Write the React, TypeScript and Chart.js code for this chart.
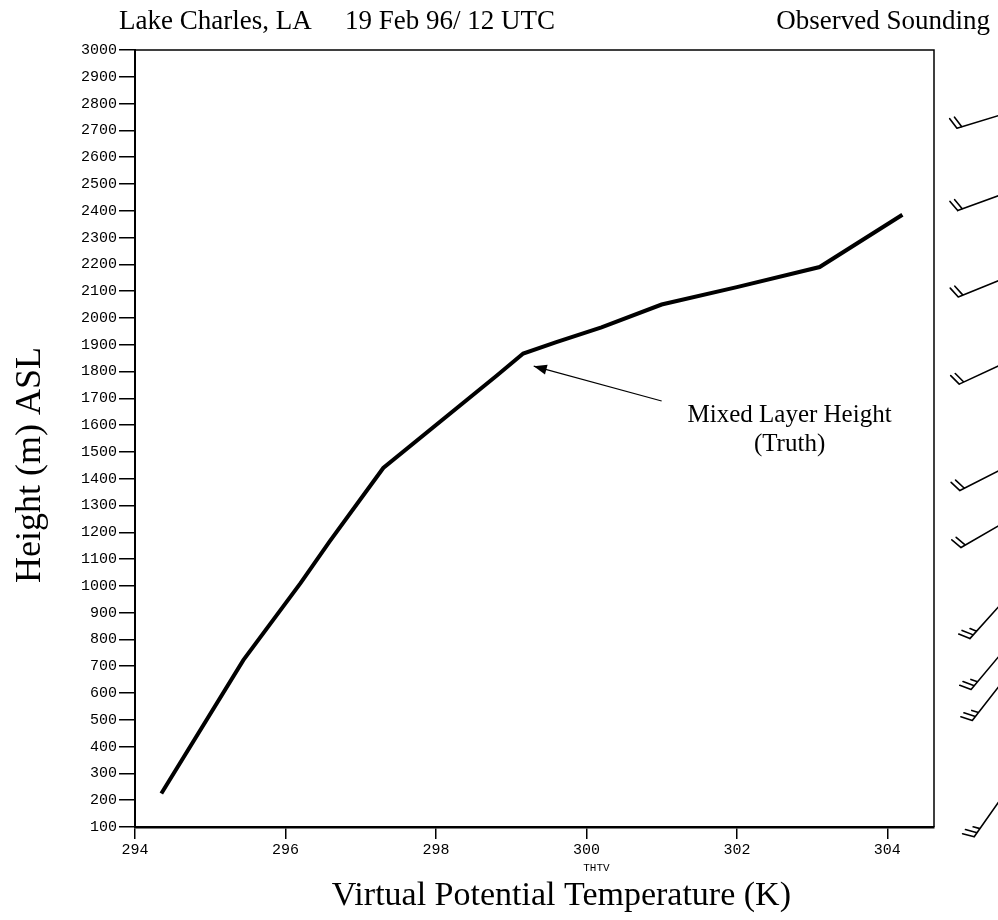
import React, { useEffect, useRef } from "react";
import { Chart, registerables } from "chart.js";

Chart.register(...registerables);

// Sounding profile: virtual potential temperature (K) vs height (m ASL)
const thetaV: number[] = [294.35, 295.44, 296.2, 296.59, 297.3, 298.81, 299.16, 299.6, 300.2, 301.0, 302.0, 303.1, 304.2];
const heights: number[] = [225, 723, 1010, 1167, 1440, 1785, 1867, 1910, 1965, 2050, 2115, 2190, 2385];

const xTicks: number[] = [294, 296, 298, 300, 302, 304];
const yTicks: number[] = [
  100, 200, 300, 400, 500, 600, 700, 800, 900, 1000, 1100, 1200, 1300, 1400, 1500,
  1600, 1700, 1800, 1900, 2000, 2100, 2200, 2300, 2400, 2500, 2600, 2700, 2800, 2900, 3000,
];

// Wind barbs: height (m), direction (deg, from), speed (kt)
const barbHeights: number[] = [2757, 2458, 2141, 1824, 1432, 1227, 928, 742, 630, 201];
const barbDirs: number[] = [253, 250, 248, 245, 243, 240, 222, 220, 218, 215];
const barbSpeeds: number[] = [20, 20, 20, 20, 20, 20, 25, 25, 25, 25];

// Annotation (data coordinates)
const arrowHead: number[] = [299.3, 1820];
const arrowTail: number[] = [301.0, 1690];
const noteAt: number[] = [302.7, 1635];

const titleLeft = "Lake Charles, LA";
const titleMid = "19 Feb 96/ 12 UTC";
const titleRight = "Observed Sounding";
const yTitle = "Height (m) ASL";
const xTitle = "Virtual Potential Temperature (K)";
const xVarName = "THTV";
const noteLines: string[] = ["Mixed Layer Height", "(Truth)"];

const SERIF = '"Liberation Serif", "DejaVu Serif", serif';
const MONO = '"Liberation Mono", "DejaVu Sans Mono", monospace';

const decorPlugin = {
  id: "decor",
  afterDraw(chart: any) {
    const ctx = chart.ctx as CanvasRenderingContext2D;
    const a = chart.chartArea;
    const xs = chart.scales.x;
    const ys = chart.scales.y;
    ctx.save();
    // frame top and right
    ctx.strokeStyle = "#000";
    ctx.lineWidth = 1.5;
    ctx.beginPath();
    ctx.moveTo(a.left, a.top);
    ctx.lineTo(a.right, a.top);
    ctx.lineTo(a.right, a.bottom);
    ctx.stroke();

    // titles
    ctx.fillStyle = "#000";
    ctx.font = `27px ${SERIF}`;
    ctx.textBaseline = "alphabetic";
    ctx.textAlign = "left";
    ctx.fillText(titleLeft, 119, 29);
    ctx.fillText(titleMid, 345, 29);
    ctx.textAlign = "right";
    ctx.fillText(titleRight, 990, 29);

    // y title
    ctx.save();
    ctx.translate(31, 465);
    ctx.rotate(-Math.PI / 2);
    ctx.textAlign = "center";
    ctx.textBaseline = "middle";
    ctx.font = `36px ${SERIF}`;
    ctx.fillText(yTitle, 0, 0);
    ctx.restore();

    // x title
    const xc = xs.getPixelForValue(300) - 25;
    ctx.textAlign = "center";
    ctx.textBaseline = "alphabetic";
    ctx.font = `34px ${SERIF}`;
    ctx.fillText(xTitle, xc, 905);
    ctx.font = `11px ${MONO}`;
    ctx.fillText(xVarName, xs.getPixelForValue(300) + 10, 871);

    // annotation arrow
    const hx = xs.getPixelForValue(arrowHead[0]);
    const hy = ys.getPixelForValue(arrowHead[1]);
    const tx = xs.getPixelForValue(arrowTail[0]);
    const ty = ys.getPixelForValue(arrowTail[1]);
    ctx.lineWidth = 1.2;
    ctx.beginPath();
    ctx.moveTo(tx, ty);
    ctx.lineTo(hx, hy);
    ctx.stroke();
    const ang = Math.atan2(hy - ty, hx - tx);
    const hl = 13, hw = 5;
    ctx.beginPath();
    ctx.moveTo(hx, hy);
    ctx.lineTo(hx - hl * Math.cos(ang) + hw * Math.sin(ang), hy - hl * Math.sin(ang) - hw * Math.cos(ang));
    ctx.lineTo(hx - hl * Math.cos(ang) - hw * Math.sin(ang), hy - hl * Math.sin(ang) + hw * Math.cos(ang));
    ctx.closePath();
    ctx.fill();
    const nx = xs.getPixelForValue(noteAt[0]);
    const ny = ys.getPixelForValue(noteAt[1]);
    ctx.font = `25px ${SERIF}`;
    ctx.textBaseline = "middle";
    noteLines.forEach((s, i) => ctx.fillText(s, nx, ny + i * 29));

    // wind barbs
    const sx = a.right + 66;
    ctx.lineWidth = 1.6;
    ctx.lineCap = "round";
    barbHeights.forEach((h, i) => {
      const sy = ys.getPixelForValue(h);
      const d = (barbDirs[i] * Math.PI) / 180;
      const ux = Math.sin(d), uy = -Math.cos(d);
      const L = 45;
      const ex = sx + ux * L, ey = sy + uy * L;
      ctx.beginPath();
      ctx.moveTo(sx, sy);
      ctx.lineTo(ex, ey);
      const th = (70 * Math.PI) / 180;
      const fx = ux * Math.cos(th) - uy * Math.sin(th);
      const fy = ux * Math.sin(th) + uy * Math.cos(th);
      const spd = barbSpeeds[i];
      let pos = 0;
      const full = Math.floor(spd / 10);
      const half = spd % 10 >= 5 ? 1 : 0;
      for (let k = 0; k < full; k++) {
        const px = ex - ux * pos, py = ey - uy * pos;
        ctx.moveTo(px, py);
        ctx.lineTo(px + fx * 12, py + fy * 12);
        pos += 5;
      }
      if (half) {
        const px = ex - ux * pos, py = ey - uy * pos;
        ctx.moveTo(px, py);
        ctx.lineTo(px + fx * 7, py + fy * 7);
      }
      ctx.stroke();
    });
    ctx.restore();
  },
};

export default function App() {
  const ref = useRef<HTMLCanvasElement>(null);
  useEffect(() => {
    document.body.style.margin = "0";
    const canvas = ref.current;
    if (!canvas) return;
    const chart = new Chart(canvas, {
      type: "line",
      data: {
        datasets: [
          {
            data: thetaV.map((t, i) => ({ x: t, y: heights[i] })),
            borderColor: "#000",
            borderWidth: 4,
            pointRadius: 0,
            tension: 0,
            fill: false,
          },
        ],
      },
      options: {
        animation: false,
        responsive: false,
        devicePixelRatio: 1,
        layout: { padding: { left: 0, right: 64, top: 50, bottom: 0 } },
        plugins: { legend: { display: false }, tooltip: { enabled: false }, title: { display: false } },
        scales: {
          x: {
            type: "linear",
            min: 294,
            max: 304.62,
            afterBuildTicks: (s: any) => {
              s.ticks = xTicks.map((v) => ({ value: v }));
            },
            afterFit: (s: any) => {
              s.height = 93;
            },
            ticks: {
              font: { family: MONO, size: 15 },
              color: "#000",
              padding: 2,
              maxRotation: 0,
              autoSkip: false,
              callback: (v: any) => String(v),
            },
            grid: { drawOnChartArea: false, drawTicks: true, tickLength: 12, color: "#000", lineWidth: 1.5 },
            border: { display: true, color: "#000", width: 2.5 },
          },
          y: {
            type: "linear",
            min: 100,
            max: 3000,
            afterBuildTicks: (s: any) => {
              s.ticks = yTicks.map((v) => ({ value: v }));
            },
            afterFit: (s: any) => {
              s.width = 135;
            },
            ticks: {
              font: { family: MONO, size: 15 },
              color: "#000",
              padding: 2,
              autoSkip: false,
              callback: (v: any) => String(v),
            },
            grid: { drawOnChartArea: false, drawTicks: true, tickLength: 16, color: "#000", lineWidth: 1.5 },
            border: { display: true, color: "#000", width: 2 },
          },
        },
      },
      plugins: [decorPlugin],
    });
    return () => chart.destroy();
  }, []);
  return (
    <div style={{ width: 998, height: 920, background: "#fff" }}>
      <canvas ref={ref} width={998} height={920} style={{ display: "block" }} />
    </div>
  );
}
